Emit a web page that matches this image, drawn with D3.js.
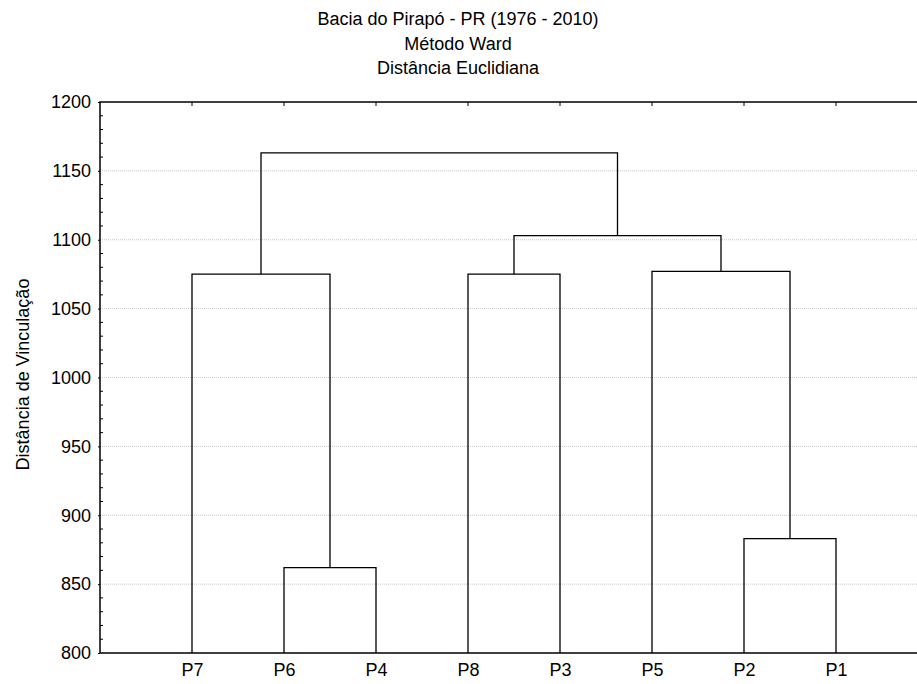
<!DOCTYPE html>
<html>
<head>
<meta charset="utf-8">
<script src="https://cdn.jsdelivr.net/npm/d3@7"></script>
<style>
  html, body { margin: 0; padding: 0; background: #fff; overflow: hidden; }
  svg { display: block; }
  text { font-family: "Liberation Sans", Arial, sans-serif; fill: #000; }
</style>
</head>
<body>
<svg id="chart" width="917" height="684"></svg>
<script>
// leaf order along the x axis
const leaves = ['P7', 'P6', 'P4', 'P8', 'P3', 'P5', 'P2', 'P1'];
// each merge joins two clusters (leaf names or earlier merge ids) at a linkage distance
const mergeIds    = ['C1', 'C2', 'C3', 'C4', 'C5', 'C6', 'C7'];
const mergeLeft   = ['P6', 'P2', 'P8', 'P7', 'P5', 'C3', 'C4'];
const mergeRight  = ['P4', 'P1', 'P3', 'C1', 'C2', 'C5', 'C6'];
const mergeHeight = [862, 883, 1075, 1075, 1077, 1103, 1163];
const yTicks = [800, 850, 900, 950, 1000, 1050, 1100, 1150, 1200];
const titleLines = ['Bacia do Pirapó - PR (1976 - 2010)', 'Método Ward', 'Distância Euclidiana'];
const yTitle = 'Distância de Vinculação';

const width = 917;
const margin = { top: 102, left: 100 };
const plotW = 828, plotH = 551;
const visibleW = width - margin.left;
const fontSize = 18;

const svg = d3.select('#chart');

svg.append('defs').append('clipPath')
    .attr('id', 'clip')
    .append('rect')
    .attr('x', -10)
    .attr('y', -10)
    .attr('width', visibleW + 10)
    .attr('height', plotH + 20);

const chart = svg.append('g')
    .attr('transform', `translate(${margin.left},${margin.top})`);

const plot = chart.append('g')
    .attr('clip-path', 'url(#clip)');

const xScale = d3.scalePoint()
    .domain(leaves)
    .range([0, plotW])
    .padding(1);

const yScale = d3.scaleLinear()
    .domain([800, 1200])
    .range([plotH, 0]);

// gridlines
plot.append('g')
    .selectAll('line')
    .data(yTicks.slice(1, -1))
    .join('line')
    .attr('x1', 0)
    .attr('x2', visibleW)
    .attr('y1', d => yScale(d))
    .attr('y2', d => yScale(d))
    .attr('stroke', '#c8c8c8')
    .attr('stroke-width', 1)
    .attr('stroke-dasharray', '1,1');

// build cluster positions
const pos = {};
leaves.forEach(l => { pos[l] = { x: xScale(l), h: 800 }; });
const links = [];
mergeIds.forEach((id, i) => {
    const a = pos[mergeLeft[i]], b = pos[mergeRight[i]];
    const h = mergeHeight[i];
    links.push({ a, b, h });
    pos[id] = { x: (a.x + b.x) / 2, h };
});

plot.append('g')
    .selectAll('path')
    .data(links)
    .join('path')
    .attr('d', d => `M${d.a.x},${yScale(d.a.h)}V${yScale(d.h)}H${d.b.x}V${yScale(d.b.h)}`)
    .attr('fill', 'none')
    .attr('stroke', '#000')
    .attr('stroke-width', 1.3);

// y axis
const yAxis = d3.axisLeft(yScale)
    .tickValues(yTicks)
    .tickFormat(d3.format('d'))
    .tickSize(2)
    .tickPadding(7);

chart.append('g')
    .call(yAxis)
    .call(g => g.select('.domain').remove())
    .call(g => g.selectAll('text')
        .attr('font-size', fontSize)
        .attr('font-family', '"Liberation Sans", Arial, sans-serif'));

// minor ticks (inward)
const minor = d3.range(810, 1200, 10).filter(v => v % 50 !== 0);
chart.append('g')
    .selectAll('line')
    .data(minor)
    .join('line')
    .attr('x1', 0)
    .attr('x2', 3)
    .attr('y1', d => yScale(d))
    .attr('y2', d => yScale(d))
    .attr('stroke', '#000');

// top axis ticks (inward)
plot.append('g')
    .selectAll('line')
    .data(leaves)
    .join('line')
    .attr('x1', d => xScale(d))
    .attr('x2', d => xScale(d))
    .attr('y1', 0)
    .attr('y2', 4)
    .attr('stroke', '#000');

// bottom labels
const xAxis = d3.axisBottom(xScale)
    .tickSize(0)
    .tickPadding(10);

chart.append('g')
    .attr('transform', `translate(0,${plotH})`)
    .call(xAxis)
    .call(g => g.select('.domain').remove())
    .call(g => g.selectAll('text')
        .attr('font-size', fontSize)
        .attr('font-family', '"Liberation Sans", Arial, sans-serif'));

// frame: left, top, bottom (right edge falls outside the picture)
plot.append('path')
    .attr('d', `M${visibleW + 5},0H0V${plotH}H${visibleW + 5}`)
    .attr('fill', 'none')
    .attr('stroke', '#000')
    .attr('stroke-width', 1.5);

// titles
svg.append('g')
    .selectAll('text')
    .data(titleLines)
    .join('text')
    .attr('x', 458)
    .attr('y', (d, i) => 25 + i * 24.5)
    .attr('text-anchor', 'middle')
    .attr('font-size', fontSize)
    .text(d => d);

svg.append('text')
    .attr('transform', `translate(29,${margin.top + plotH / 2 - 3}) rotate(-90)`)
    .attr('text-anchor', 'middle')
    .attr('font-size', fontSize)
    .text(yTitle);
</script>
</body>
</html>
